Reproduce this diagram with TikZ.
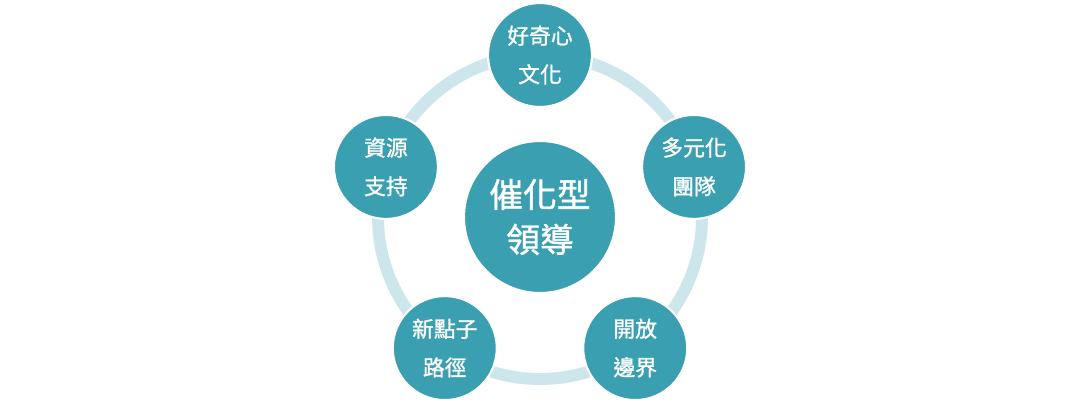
\documentclass[tikz,border=0pt]{standalone}
\usepackage{fontspec}
\setmainfont{Noto Sans CJK TC}[FakeBold=1.2]
\usetikzlibrary{backgrounds}

\definecolor{leadteal}{RGB}{58,159,176}
\definecolor{ringblue}{RGB}{205,230,235}

\tikzset{
  hub/.style={circle, fill=leadteal, draw=white, line width=1.5pt, minimum size=3.8cm,
    inner sep=0pt, text=white, align=center, font=\fontsize{24pt}{32pt}\selectfont},
  leaf/.style={circle, fill=leadteal, draw=white, line width=1.5pt, minimum size=2.6cm,
    inner sep=0pt, text=white, align=center, font=\fontsize{15.5pt}{27.5pt}\selectfont},
  ring/.style={draw=ringblue, line width=8.5pt}
}

\begin{document}
\begin{tikzpicture}
  \useasboundingbox (-13.5,-4.7) rectangle (13.5,5.425);

  % Define the nodes
  \node[hub] (hub) at (0,0) {催化型\\領導};
  \node[leaf] (curious) at (90:4.05) {好奇心\\文化};
  \node[leaf] (diverse) at (18:4.05) {多元化\\團隊};
  \node[leaf] (open) at (-54:4.05) {開放\\邊界};
  \node[leaf] (ideas) at (234:4.05) {新點子\\路徑};
  \node[leaf] (support) at (162:4.05) {資源\\支持};

  % Ring behind the five circles
  \begin{pgfonlayer}{background}
    \draw[ring] (hub.center) circle (4.05);
  \end{pgfonlayer}
\end{tikzpicture}
\end{document}
